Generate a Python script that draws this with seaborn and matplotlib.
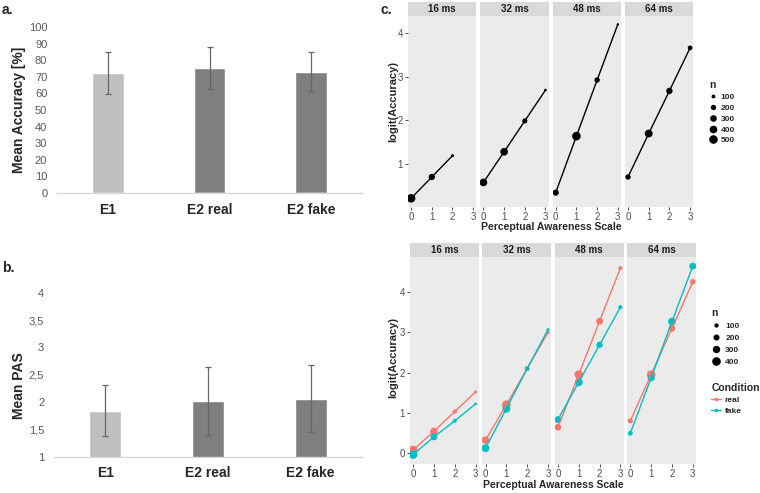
import pandas as pd
import matplotlib.pyplot as plt
from matplotlib.lines import Line2D
from matplotlib.patches import Rectangle
import seaborn as sns

# ---- panels a and b: group means with error bars ----
groups = ["E1", "E2 real", "E2 fake"]
bar_colors = ["#BFBFBF", "#7F7F7F", "#7F7F7F"]
acc_mean = [72.3, 75.5, 73.1]
acc_err = [12.8, 12.6, 11.6]
pas_mean = [1.84, 2.02, 2.06]
pas_err = [0.47, 0.62, 0.61]
acc_ticks = list(range(0, 101, 10))
pas_ticks = [1, 1.5, 2, 2.5, 3, 3.5, 4]
pas_ticklabels = ["1", "1,5", "2", "2,5", "3", "3,5", "4"]

# ---- panel c: logit(accuracy) by PAS rating, faceted by duration ----
durations = ["16 ms", "32 ms", "48 ms", "64 ms"]
pas_levels = [0, 1, 2, 3]

# top row (E1), 16 ms has no PAS 3 point
e1_logit = [[0.20, 0.69, 1.18],
            [0.565, 1.27, 1.98, 2.69],
            [0.33, 1.63, 2.92, 4.20],
            [0.69, 1.69, 2.67, 3.66]]
e1_n = [[500, 270, 60],
        [400, 400, 180, 50],
        [260, 500, 200, 40],
        [200, 420, 280, 150]]

# bottom row (E2), real vs fake
conditions = ["real", "fake"]
cond_colors = {"real": "#F8766D", "fake": "#00BFC4"}
e2_real_logit = [[0.075, 0.54, 1.03, 1.52],
                 [0.32, 1.20, 2.10, 3.00],
                 [0.64, 1.95, 3.28, 4.60],
                 [0.80, 1.95, 3.10, 4.26]]
e2_fake_logit = [[-0.04, 0.40, 0.80, 1.22],
                 [0.12, 1.10, 2.10, 3.07],
                 [0.83, 1.76, 2.69, 3.63],
                 [0.49, 1.87, 3.27, 4.65]]
e2_real_n = [[400, 300, 100, 50],
             [300, 400, 120, 60],
             [240, 420, 260, 90],
             [140, 400, 240, 160]]
e2_fake_n = [[420, 250, 90, 40],
             [330, 340, 120, 50],
             [260, 340, 220, 90],
             [130, 280, 320, 260]]
top_yticks = [1, 2, 3, 4]
bottom_yticks = [0, 1, 2, 3, 4]
n_legend_top = [100, 200, 300, 400, 500]
n_legend_bottom = [100, 200, 300, 400]

rows = []
for d, ys, ns in zip(durations, e1_logit, e1_n):
    for p, y, n in zip(pas_levels, ys, ns):
        rows.append(dict(duration=d, pas=p, logit=y, n=n))
e1 = pd.DataFrame(rows)

rows = []
for cond, logits, counts in [("real", e2_real_logit, e2_real_n),
                             ("fake", e2_fake_logit, e2_fake_n)]:
    for d, ys, ns in zip(durations, logits, counts):
        for p, y, n in zip(pas_levels, ys, ns):
            rows.append(dict(duration=d, pas=p, logit=y, n=n, cond=cond))
e2 = pd.DataFrame(rows)

sns.set_theme(style="white")
plt.rcParams["font.family"] = ["Liberation Sans", "DejaVu Sans"]

W, H = 760, 493
fig = plt.figure(figsize=(W / 100, H / 100), dpi=100)


def px_box(x0, y0, x1, y1):
    return [x0 / W, 1 - y1 / H, (x1 - x0) / W, (y1 - y0) / H]


def fig_text(x, y, s, **kw):
    fig.text(x / W, 1 - y / H, s, **kw)


# ---- bar panels ----
def bar_panel(box, means, errs, ticks, ticklabels, ylim, xpad):
    ax = fig.add_axes(px_box(*box))
    df = pd.DataFrame({"group": groups, "value": means})
    sns.barplot(data=df, x="group", y="value", hue="group", palette=bar_colors,
                width=0.31, saturation=1, legend=False, ax=ax)
    ax.errorbar(range(len(groups)), means, yerr=errs, fmt="none",
                ecolor="#666666", elinewidth=0.9, capsize=2, capthick=0.9)
    ax.set_ylim(*ylim)
    ax.set_xlim(-0.5, len(groups) - 0.5)
    ax.set_yticks(ticks)
    ax.set_yticklabels(ticklabels)
    ax.set_xlabel("")
    ax.set_ylabel("")
    for s in ["top", "right", "left"]:
        ax.spines[s].set_visible(False)
    ax.spines["bottom"].set_color("#D9D9D9")
    ax.spines["bottom"].set_linewidth(1.0)
    ax.tick_params(axis="y", length=0, pad=7, labelsize=8, labelcolor="#595959")
    ax.tick_params(axis="x", length=0, pad=xpad, labelsize=10)
    for t in ax.get_xticklabels():
        t.set_fontweight("bold")
    ax.set_facecolor("white")
    return ax


bar_panel((57, 27, 362, 193), acc_mean, acc_err, acc_ticks,
          [str(t) for t in acc_ticks], (0, 100), 7)
bar_panel((54, 292.7, 362, 456.7), pas_mean, pas_err, pas_ticks,
          pas_ticklabels, (1, 4), 6.5)

fig_text(2, 10, "a.", fontsize=10, fontweight="bold", va="center")
fig_text(2, 268, "b.", fontsize=10, fontweight="bold", va="center")
fig_text(19, 110, "Mean Accuracy [%]", fontsize=10, fontweight="bold",
         rotation=90, ha="center", va="center")
fig_text(19, 386, "Mean PAS", fontsize=10, fontweight="bold",
         rotation=90, ha="center", va="center")


# ---- facet panels ----
def facet_row(df, lefts, width, top, bottom, strip_top, yticks, size_max, hue=None):
    lo, hi = df["logit"].min(), df["logit"].max()
    ylim = (lo - 0.05 * (hi - lo), hi + 0.05 * (hi - lo))
    xr = max(pas_levels) - min(pas_levels)
    xlim = (min(pas_levels) - 0.05 * xr, max(pas_levels) + 0.05 * xr)
    strip_frac = (top - strip_top) / (bottom - top)
    axes = []
    for i, (d, left) in enumerate(zip(durations, lefts)):
        ax = fig.add_axes(px_box(left, top, left + width, bottom))
        sub = df[df["duration"] == d]
        if hue is None:
            sns.lineplot(data=sub, x="pas", y="logit", color="black", lw=1.0,
                         ax=ax, legend=False)
            sns.scatterplot(data=sub, x="pas", y="logit", size="n",
                            sizes=(0, 38), size_norm=(0, size_max),
                            color="black", linewidth=0, ax=ax, legend=False)
        else:
            sns.lineplot(data=sub, x="pas", y="logit", hue=hue,
                         hue_order=conditions, palette=cond_colors, lw=1.0,
                         ax=ax, legend=False)
            sns.scatterplot(data=sub, x="pas", y="logit", hue=hue,
                            hue_order=conditions, palette=cond_colors,
                            size="n", sizes=(0, 38), size_norm=(0, size_max),
                            linewidth=0, ax=ax, legend=False)
        ax.set_facecolor("#EBEBEB")
        for s in ax.spines.values():
            s.set_visible(False)
        ax.set_xlim(*xlim)
        ax.set_ylim(*ylim)
        ax.set_xticks(pas_levels)
        ax.set_yticks(yticks)
        ax.set_xlabel("")
        ax.set_ylabel("")
        ax.tick_params(axis="both", length=2.5, width=0.6, color="#333333",
                       labelcolor="#4D4D4D", labelsize=7, pad=1.2,
                       bottom=True, left=(i == 0))
        if i > 0:
            ax.set_yticklabels([])
        ax.add_patch(Rectangle((0, 1), 1, strip_frac, transform=ax.transAxes,
                               facecolor="#D9D9D9", edgecolor="none",
                               clip_on=False))
        ax.text(0.5, 1 + strip_frac / 2, d, transform=ax.transAxes,
                ha="center", va="center", fontsize=7, fontweight="bold",
                color="#1A1A1A")
        axes.append(ax)
    return axes


facet_row(e1, [408, 480.3, 552.6, 624.9], 68.3, 15.7, 207, 1.7,
          top_yticks, 500)
facet_row(e2, [410, 482.4, 554.8, 627.2], 68.7, 256.7, 464, 242.7,
          bottom_yticks, 400, hue="cond")

fig_text(381, 10, "c.", fontsize=10, fontweight="bold", va="center")
fig_text(393, 101, "logit(Accuracy)", fontsize=8, fontweight="bold",
         rotation=90, ha="center", va="center")
fig_text(393, 357, "logit(Accuracy)", fontsize=8, fontweight="bold",
         rotation=90, ha="center", va="center")
fig_text(551, 227.5, "Perceptual Awareness Scale", fontsize=7.5,
         fontweight="bold", ha="center", va="center")
fig_text(553, 485, "Perceptual Awareness Scale", fontsize=7.5,
         fontweight="bold", ha="center", va="center")


# ---- legends ----
def size_handles(values, size_max):
    return [Line2D([], [], marker="o", ls="", color="black", markeredgewidth=0,
                   markersize=(38 * v / size_max) ** 0.5) for v in values]


leg_kw = dict(loc="upper left", frameon=False, borderpad=0, alignment="left",
              title_fontproperties={"weight": "bold", "size": 7.5},
              prop={"weight": "bold", "size": 6})

fig.legend(size_handles(n_legend_top, 500), [str(v) for v in n_legend_top],
           title="n", bbox_to_anchor=(705 / W, 1 - 76 / H),
           handlelength=1.0, handletextpad=0.4, labelspacing=0.36, **leg_kw)
fig.legend(size_handles(n_legend_bottom, 400), [str(v) for v in n_legend_bottom],
           title="n", bbox_to_anchor=(707 / W, 1 - 304 / H),
           handlelength=1.2, handletextpad=0.5, labelspacing=0.48, **leg_kw)
cond_handles = [Line2D([], [], color=cond_colors[c], lw=1.0, marker="o",
                       markersize=2.5, markeredgewidth=0) for c in conditions]
fig.legend(cond_handles, conditions, title="Condition",
           bbox_to_anchor=(707 / W, 1 - 379 / H),
           handlelength=1.2, handletextpad=0.4, labelspacing=0.35, **leg_kw)

fig.savefig("out.png", dpi=100)
